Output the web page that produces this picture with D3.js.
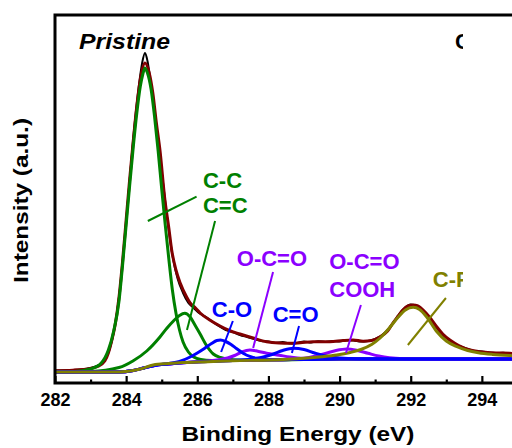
<!DOCTYPE html>
<html>
<head>
<meta charset="utf-8">
<script src="https://cdn.jsdelivr.net/npm/d3@7"></script>
<style>
  html, body { margin: 0; padding: 0; background: #fff; }
  svg { display: block; }
  text { font-family: "Liberation Sans", Arial, Helvetica, sans-serif; font-weight: bold; }
</style>
</head>
<body>
<svg id="chart" width="512" height="448"></svg>
<script>
// C 1s spectrum of the pristine sample: binding energy (eV) vs intensity (a.u.)

const majorTicks = [282, 284, 286, 288, 290, 292, 294];
const minorTicks = [283, 285, 287, 289, 291, 293, 295];

// measured spectrum
const rawSpectrum = [
  [282.0, 12.5], [282.3, 12.8], [282.6, 13.2], [282.9, 14.3], [283.1, 16], [283.3, 19.5],
  [283.45, 26], [283.6, 42], [283.75, 72], [283.9, 120], [284.05, 182], [284.2, 245],
  [284.35, 295], [284.45, 320], [284.53, 330], [284.6, 322], [284.7, 298], [284.85, 258],
  [285.0, 212], [285.15, 166], [285.3, 128], [285.45, 104], [285.6, 90], [285.75, 80],
  [285.9, 75], [286.05, 70], [286.2, 67], [286.4, 62], [286.6, 57], [286.8, 53],
  [287.0, 51], [287.2, 48], [287.4, 46], [287.6, 44], [287.8, 42], [288.0, 41.5],
  [288.2, 40], [288.4, 41], [288.6, 39.5], [288.8, 40], [289.0, 41.5], [289.2, 40.5],
  [289.4, 41.8], [289.6, 41], [289.8, 42], [290.0, 41.5], [290.2, 43], [290.4, 42.5],
  [290.6, 41.5], [290.8, 42], [291.0, 44], [291.2, 48], [291.4, 55], [291.6, 65],
  [291.8, 74], [292.0, 78.5], [292.2, 77], [292.4, 70], [292.6, 61], [292.8, 52],
  [293.0, 45], [293.2, 40], [293.4, 36.5], [293.6, 34], [293.8, 32], [294.0, 31.5],
  [294.2, 30.5], [294.4, 30], [294.6, 30.2], [294.8, 29.6], [295.0, 29.3], [295.5, 28.5],
  [296.0, 28]
];

// sum of the fitted components
const envelopeFit = [
  [282.0, 12.3], [282.5, 12.8], [283.0, 14.5], [283.2, 16.5], [283.4, 22], [283.5, 30],
  [283.6, 43], [283.7, 60], [283.8, 86], [283.9, 122], [284.0, 163], [284.1, 204],
  [284.2, 242], [284.3, 277], [284.4, 304], [284.53, 320], [284.65, 310], [284.75, 290],
  [284.85, 260], [284.95, 233], [285.09, 183], [285.2, 155], [285.28, 133], [285.4, 113],
  [285.52, 100], [285.7, 86], [285.8, 80], [285.95, 75], [286.08, 70], [286.35, 63],
  [286.64, 57], [286.9, 52.5], [287.2, 49], [287.57, 45], [287.95, 41.3], [288.3, 40],
  [288.61, 39.7], [288.9, 40.3], [289.25, 41.3], [289.73, 41.3], [290.1, 42.5], [290.38, 43],
  [290.66, 41.8], [290.9, 42.5], [291.14, 46.3], [291.35, 52], [291.5, 60], [291.65, 67],
  [291.78, 73], [291.92, 77], [292.07, 78], [292.2, 77], [292.35, 73], [292.55, 65],
  [292.73, 56.3], [292.9, 49], [293.1, 43], [293.35, 37.5], [293.67, 33], [293.95, 31.3],
  [294.23, 30.3], [294.79, 29.7], [295.4, 28.8], [296.0, 28]
];

// fitted components, each on the Shirley background
const peakCC = [
  [282.0, 11], [282.5, 11.3], [283.0, 14], [283.3, 20], [283.5, 33], [283.65, 52],
  [283.8, 82], [283.9, 118], [284.0, 158], [284.1, 198], [284.2, 236], [284.3, 270],
  [284.4, 297], [284.47, 309], [284.53, 315], [284.6, 310], [284.7, 294], [284.8, 266],
  [284.9, 232], [285.0, 194], [285.1, 158], [285.2, 124], [285.3, 93], [285.4, 70],
  [285.5, 53], [285.6, 41], [285.75, 31], [285.9, 26], [286.1, 23.5], [286.4, 22.5],
  [287.0, 22.5], [288.0, 23], [290.0, 24], [292.0, 24], [294.0, 24], [296.0, 24]
];
const peakCeqC = [
  [282.0, 11], [283.0, 11.5], [283.8, 15.5], [284.19, 22], [284.58, 32], [284.95, 46],
  [285.15, 55], [285.33, 62], [285.5, 67.5], [285.65, 69.7], [285.8, 66], [285.95, 57],
  [286.08, 49], [286.25, 38], [286.45, 29], [286.65, 25.5], [286.83, 24], [287.2, 23],
  [288.0, 23], [290.0, 24], [292.0, 24], [294.0, 24], [296.0, 24]
];
const peakCO = [
  [282.0, 11], [283.8, 11], [284.2, 12.5], [284.5, 15], [284.8, 17.5], [285.2, 19.5],
  [285.5, 21.5], [285.8, 26], [286.0, 30], [286.2, 34.5], [286.4, 39.5], [286.55, 42.5],
  [286.65, 43], [286.8, 41.5], [286.95, 38.5], [287.1, 34.5], [287.3, 29.5], [287.5, 26.3],
  [287.7, 24.5], [288.0, 23.5], [289.0, 23.5], [290.0, 24], [292.0, 24], [294.0, 24], [296.0, 24]
];
const peakOCO = [
  [282.0, 11], [283.8, 11], [284.2, 12.5], [284.5, 15], [284.8, 17.5], [285.2, 19],
  [285.6, 20.3], [286.3, 22], [286.6, 23.2], [286.85, 25], [287.05, 27.5], [287.25, 31],
  [287.48, 33], [287.7, 31.8], [287.95, 29.8], [288.3, 27.8], [288.6, 26], [289.0, 24.5],
  [289.5, 24], [290.0, 24], [292.0, 24], [294.0, 24], [296.0, 24]
];
const peakCeqO = [
  [282.0, 11], [283.8, 11], [284.2, 12.5], [284.5, 15], [284.8, 17.5], [285.2, 19],
  [285.6, 20.3], [286.3, 21.5], [287.0, 22.5], [287.5, 23.8], [287.8, 25.5], [288.1, 28.5],
  [288.4, 32.5], [288.7, 34.8], [289.0, 33.5], [289.3, 30], [289.6, 27], [290.0, 25],
  [290.5, 24.2], [292.0, 24], [294.0, 24], [296.0, 24]
];
const peakCOOH = [
  [282.0, 11], [283.8, 11], [284.2, 12.5], [284.5, 15], [284.8, 17.5], [285.2, 19],
  [285.6, 20.3], [286.3, 21.5], [287.0, 22.5], [288.0, 23], [288.5, 23.3], [289.0, 24.8],
  [289.3, 26.8], [289.6, 29.5], [289.9, 32.5], [290.2, 34], [290.5, 32.5], [290.8, 29.7],
  [291.1, 27], [291.4, 25.2], [291.8, 24.3], [292.5, 24], [294.0, 24], [296.0, 24]
];
const peakCF = [
  [282.0, 11], [283.8, 11], [284.0, 11.5], [284.4, 14], [284.76, 18], [285.2, 19.5],
  [285.6, 20.5], [286.3, 21.3], [287.0, 22.3], [288.0, 23], [289.0, 24.8], [289.5, 26.3],
  [289.92, 28], [290.3, 30.5], [290.6, 33.5], [290.9, 38.5], [291.14, 45], [291.4, 55],
  [291.65, 66], [291.85, 73], [292.07, 75.7], [292.25, 73.5], [292.45, 66], [292.73, 51.5],
  [293.0, 42], [293.3, 36.3], [293.6, 32.5], [293.9, 30.3], [294.3, 28.6], [294.8, 27.4],
  [295.4, 26.6], [296.0, 26]
];

// ---- drawing ----
const svg = d3.select("#chart");
const plot = { left: 55, top: 15, right: 553, bottom: 383 };

const x = d3.scaleLinear().domain([282, 296]).range([plot.left, plot.right]);
const y = d3.scaleLinear().domain([0, 368]).range([plot.bottom, plot.top]);

const defs = svg.append("defs");
defs.append("clipPath").attr("id", "plot-clip")
  .append("rect")
  .attr("x", plot.left).attr("y", plot.top)
  .attr("width", plot.right - plot.left).attr("height", plot.bottom - plot.top);
defs.append("clipPath").attr("id", "label-clip")
  .append("rect").attr("x", 0).attr("y", 0).attr("width", 463).attr("height", 448);

const line = d3.line()
  .x(d => x(d[0]))
  .y(d => y(d[1]))
  .curve(d3.curveMonotoneX);

const curves = svg.append("g").attr("clip-path", "url(#plot-clip)")
  .attr("fill", "none").attr("stroke-linejoin", "round").attr("stroke-linecap", "round");

const series = [
  { data: rawSpectrum, color: "#000000", width: 2 },
  { data: envelopeFit, color: "#800000", width: 3 },
  { data: peakCC, color: "#008000", width: 3 },
  { data: peakCeqC, color: "#008000", width: 3 },
  { data: peakOCO, color: "#8b00ff", width: 3 },
  { data: peakCOOH, color: "#8b00ff", width: 3 },
  { data: peakCO, color: "#0000ff", width: 3 },
  { data: peakCeqO, color: "#0000ff", width: 3 },
  { data: peakCF, color: "#808000", width: 3 }
];

curves.selectAll("path").data(series).join("path")
  .attr("d", s => line(s.data))
  .attr("stroke", s => s.color)
  .attr("stroke-width", s => s.width);

// callout labels and leader lines (energy, intensity)
const callouts = [
  { lines: ["C-C", "C=C"], color: "#008000", at: [286.16, 195], step: 25,
    leaders: [[[284.61, 162], [285.98, 186.3]], [[286.5, 162], [285.71, 53]]] },
  { lines: ["C-O"], color: "#0000ff", at: [286.41, 66.5], step: 0,
    leaders: [[[287.0, 62], [286.67, 31]]] },
  { lines: ["O-C=O"], color: "#8b00ff", at: [287.11, 117], step: 0,
    leaders: [[[288.13, 111], [287.57, 35]]] },
  { lines: ["C=O"], color: "#0000ff", at: [288.12, 61], step: 0,
    leaders: [[[288.86, 57], [288.66, 30]]] },
  { lines: ["O-C=O", "COOH"], color: "#8b00ff", at: [289.71, 114.5], step: 28.5,
    leaders: [[[290.6, 78], [290.18, 30]]] },
  { lines: ["C-F"], color: "#808000", at: [292.62, 96], step: 0,
    leaders: [[[292.99, 85], [291.92, 38]]] }
];

const notes = svg.append("g");
callouts.forEach(c => {
  c.leaders.forEach(seg => {
    notes.append("line")
      .attr("x1", x(seg[0][0])).attr("y1", y(seg[0][1]))
      .attr("x2", x(seg[1][0])).attr("y2", y(seg[1][1]))
      .attr("stroke", c.color).attr("stroke-width", 2);
  });
  c.lines.forEach((t, i) => {
    notes.append("text")
      .attr("clip-path", "url(#label-clip)")
      .attr("x", x(c.at[0]))
      .attr("y", y(c.at[1]) + i * c.step)
      .attr("fill", c.color)
      .attr("font-size", 22)
      .text(t);
  });
});

// axis: inward major and minor ticks
const xAxis = d3.axisBottom(x)
  .tickValues(majorTicks)
  .tickSizeInner(-7).tickSizeOuter(0).tickPadding(10)
  .tickFormat(d3.format("d"));
const gx = svg.append("g").attr("transform", `translate(0,${plot.bottom})`).call(xAxis);
gx.select(".domain").remove();
gx.selectAll(".tick line").attr("stroke", "#000").attr("stroke-width", 2.2);
gx.selectAll(".tick text").attr("fill", "#000").attr("font-size", 18)
  .attr("font-family", "'Liberation Sans', Arial, sans-serif").attr("font-weight", "bold");

const minorAxis = d3.axisBottom(x).tickValues(minorTicks)
  .tickSizeInner(-3.5).tickSizeOuter(0).tickFormat("");
const gm = svg.append("g").attr("transform", `translate(0,${plot.bottom})`).call(minorAxis);
gm.select(".domain").remove();
gm.selectAll(".tick line").attr("stroke", "#000").attr("stroke-width", 2.2);

// frame
svg.append("rect")
  .attr("x", plot.left).attr("y", plot.top)
  .attr("width", plot.right - plot.left).attr("height", plot.bottom - plot.top)
  .attr("fill", "none").attr("stroke", "#000").attr("stroke-width", 3);

// titles
svg.append("text").attr("x", 79).attr("y", 49)
  .attr("font-size", 22).attr("font-style", "italic")
  .attr("textLength", 91).attr("lengthAdjust", "spacingAndGlyphs")
  .text("Pristine");
svg.append("text").attr("x", 455).attr("y", 49)
  .attr("font-size", 22).attr("clip-path", "url(#label-clip)")
  .text("C 1s");

svg.append("text")
  .attr("transform", "translate(28,200.5) rotate(-90)")
  .attr("text-anchor", "middle").attr("font-size", 21)
  .attr("textLength", 165).attr("lengthAdjust", "spacingAndGlyphs")
  .text("Intensity (a.u.)");

svg.append("text")
  .attr("x", 298).attr("y", 441)
  .attr("text-anchor", "middle").attr("font-size", 21)
  .attr("textLength", 233).attr("lengthAdjust", "spacingAndGlyphs")
  .text("Binding Energy (eV)");
</script>
</body>
</html>
